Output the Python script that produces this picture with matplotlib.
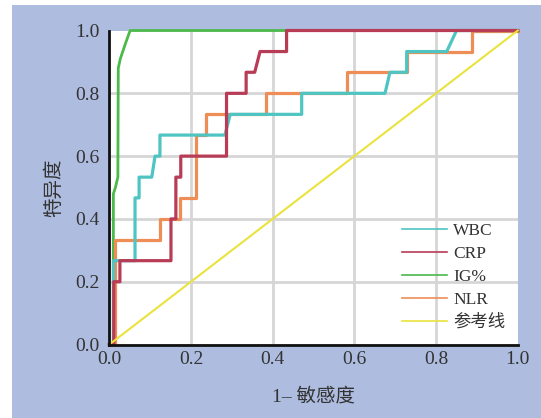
#!/usr/bin/env python
# ROC curves for WBC / CRP / IG% / NLR

import matplotlib
matplotlib.use("Agg")
import matplotlib.pyplot as plt
from matplotlib.lines import Line2D
from matplotlib.patches import Rectangle

plt.rcParams['font.family'] = ['Liberation Serif', 'Noto Sans CJK SC']

# x = 1- 敏感度, y = 特异度
wbc_x = [0, 0.010, 0.010, 0.063, 0.063, 0.073, 0.073, 0.104, 0.112, 0.124, 0.124,
         0.283, 0.296, 0.471, 0.471, 0.675, 0.687, 0.728, 0.728, 0.826, 0.850, 1.0]
wbc_y = [0, 0, 0.267, 0.267, 0.467, 0.467, 0.533, 0.533, 0.600, 0.600, 0.667,
         0.667, 0.733, 0.733, 0.800, 0.800, 0.867, 0.867, 0.933, 0.933, 1.0, 1.0]

crp_x = [0, 0.011, 0.011, 0.026, 0.026, 0.151, 0.151, 0.163, 0.163, 0.175,
         0.175, 0.287, 0.287, 0.335, 0.335, 0.356, 0.369, 0.434, 0.434, 1.0]
crp_y = [0, 0, 0.200, 0.200, 0.267, 0.267, 0.400, 0.400, 0.533, 0.533,
         0.600, 0.600, 0.800, 0.800, 0.867, 0.867, 0.933, 0.933, 1.0, 1.0]

ig_x = [0, 0.010, 0.010, 0.015, 0.021, 0.022, 0.027, 0.040, 0.051, 1.0]
ig_y = [0, 0, 0.480, 0.500, 0.533, 0.880, 0.910, 0.960, 1.0, 1.0]

nlr_x = [0, 0.013, 0.013, 0.124, 0.124, 0.173, 0.173, 0.212, 0.212, 0.237,
         0.237, 0.383, 0.383, 0.581, 0.581, 0.728, 0.728, 0.887, 0.887, 1.0]
nlr_y = [0, 0, 0.333, 0.333, 0.400, 0.400, 0.467, 0.467, 0.667, 0.667,
         0.733, 0.733, 0.800, 0.800, 0.867, 0.867, 0.933, 0.933, 1.0, 1.0]

ref_x = [0, 1]
ref_y = [0, 1]

ticks = [0.0, 0.2, 0.4, 0.6, 0.8, 1.0]
tick_labels = ['0.0', '0.2', '0.4', '0.6', '0.8', '1.0']
names = ['WBC', 'CRP', 'IG%', 'NLR', '参考线']
colors = ['#4ec5c2', '#b83c56', '#4cb94b', '#ee8d55', '#e9e33d']

txt = '#333333'

fig = plt.figure(figsize=(5.41, 4.18), dpi=100, facecolor='white')
fig.patches.append(Rectangle((12 / 541, 0), 1, 413 / 418, transform=fig.transFigure,
                             facecolor='#adbcdf', edgecolor='none', zorder=-10))

ax = fig.add_axes([0.202, 0.1758, 0.7551, 0.7512])
ax.set_facecolor('white')

ax.plot(ig_x, ig_y, color=colors[2], lw=2.0, clip_on=False, zorder=2)
ax.plot(nlr_x, nlr_y, color=colors[3], lw=2.3, clip_on=False, zorder=3)
ax.plot(wbc_x, wbc_y, color=colors[0], lw=2.3, clip_on=False, zorder=4)
ax.plot(crp_x, crp_y, color=colors[1], lw=2.3, clip_on=False, zorder=5)
ax.plot(ref_x, ref_y, color=colors[4], lw=1.5, clip_on=False, zorder=6)

ax.set_xlim(0, 1)
ax.set_ylim(0, 1)
ax.set_xticks(ticks)
ax.set_yticks(ticks)
ax.set_xticklabels(tick_labels)
ax.set_yticklabels(tick_labels)
ax.tick_params(length=0, labelsize=14, labelcolor=txt)
ax.tick_params(axis='x', pad=5)
ax.tick_params(axis='y', pad=7)
ax.grid(True, color='#d6d6d6', lw=2.0, zorder=0)
ax.set_axisbelow(True)
# no grid line on the outer edge
ax.xaxis.get_gridlines()[-1].set_visible(False)
ax.yaxis.get_gridlines()[-1].set_visible(False)

for s in ['top', 'right']:
    ax.spines[s].set_visible(False)
for s in ['left', 'bottom']:
    ax.spines[s].set_linewidth(2.0)
    ax.spines[s].set_color('#111111')
    ax.spines[s].set_zorder(7)

ax.set_xlabel('1– 敏感度', fontsize=14, color=txt, labelpad=14)
ax.set_ylabel('特异度', fontsize=14, color=txt, labelpad=9)

handles = [Line2D([0], [0], color=c, lw=1.2) for c in colors]
ax.legend(handles, names, loc='center left', bbox_to_anchor=(0.716, 0.215),
          frameon=False, fontsize=12.5, handlelength=2.6, handletextpad=0.35,
          labelspacing=0.38, borderpad=0, borderaxespad=0, labelcolor=txt)

plt.savefig('out.png', dpi=100, facecolor=fig.get_facecolor())
